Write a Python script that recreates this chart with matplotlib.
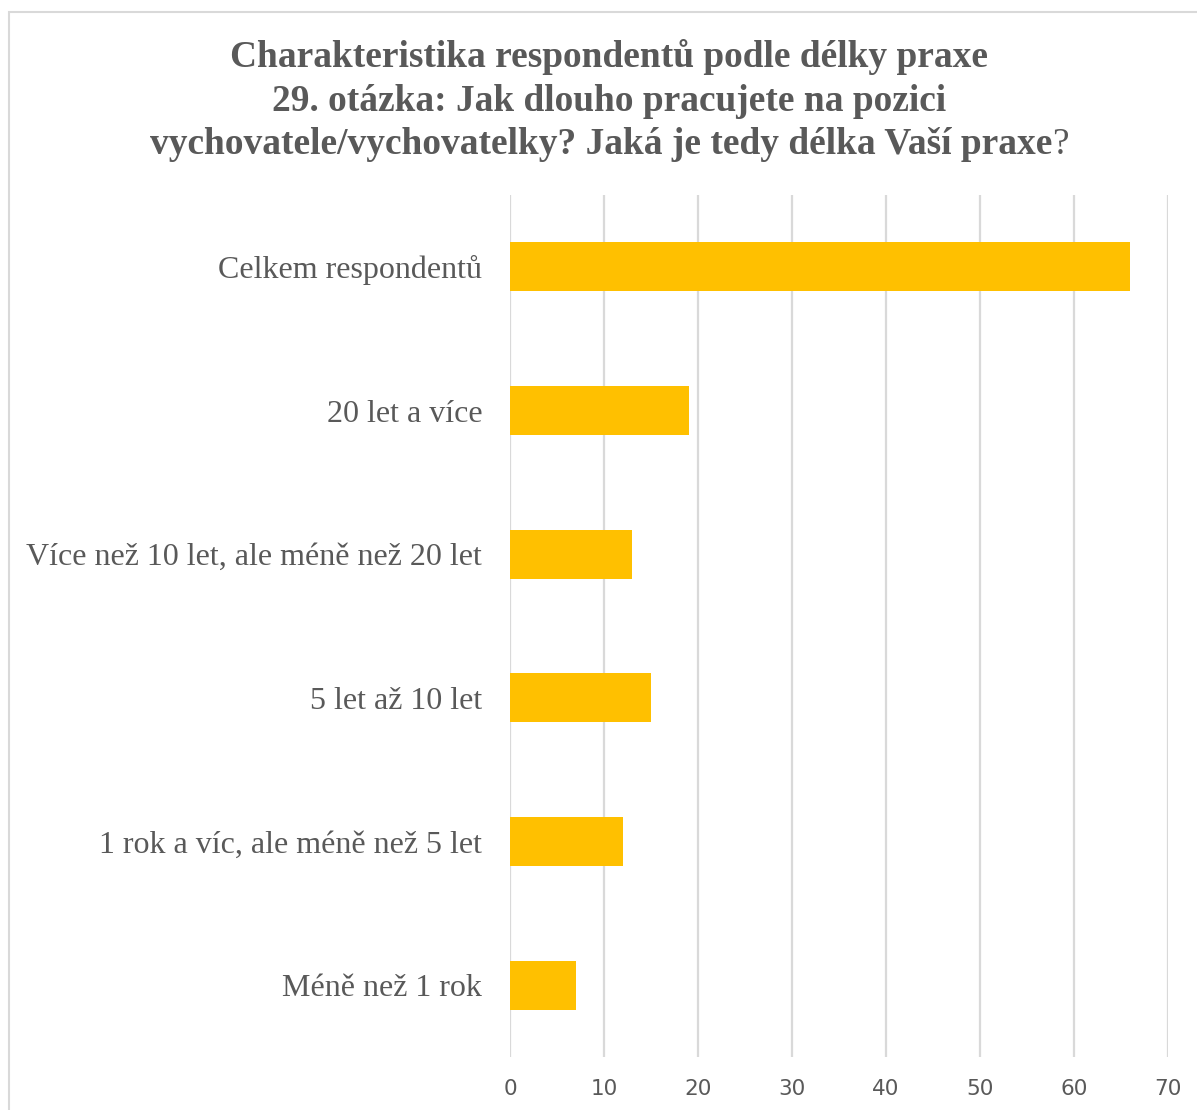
import matplotlib.pyplot as plt
from matplotlib.patches import Rectangle

categories = ["Méně než 1 rok",
              "1 rok a víc, ale méně než 5 let",
              "5 let až 10 let",
              "Více než 10 let, ale méně než 20 let",
              "20 let a více",
              "Celkem respondentů"]
counts = [7, 12, 15, 13, 19, 66]
xticks = [0, 10, 20, 30, 40, 50, 60, 70]

title_lines = ["Charakteristika respondentů podle délky praxe",
               "29. otázka: Jak dlouho pracujete na pozici"]
title_last = "vychovatele/vychovatelky? Jaká je tedy délka Vaší praxe"

txt = "#595959"
grid = "#d9d9d9"
gold = "#ffc000"

W, H = 1197, 1110
fig = plt.figure(figsize=(W / 100, H / 100), dpi=100)

# chart area frame
fig.patches.append(Rectangle((9 / W, -0.05), 1.1, 1 - 12 / H + 0.05,
                             transform=fig.transFigure, fill=False,
                             edgecolor=grid, linewidth=1.5))

ax = fig.add_axes([510 / W, 1 - 1057 / H, 658 / W, 862 / H])
ax.barh(range(len(categories)), counts, height=0.34, color=gold, zorder=3)
ax.set_ylim(-0.5, len(categories) - 0.5)
ax.set_xlim(0, 70)
ax.set_xticks(xticks)
ax.set_xticklabels([str(t) for t in xticks], fontsize=15.5, color=txt,
                   family="DejaVu Sans")
ax.set_yticks(range(len(categories)))
ax.set_yticklabels(categories, fontsize=23, color=txt, family="Liberation Serif")
ax.tick_params(axis="both", length=0)
ax.tick_params(axis="x", pad=16)
ax.tick_params(axis="y", pad=20)
ax.xaxis.grid(True, color=grid, linewidth=1.6, zorder=0)
for s in ax.spines.values():
    s.set_visible(False)

# title, the closing question mark is not bold
tkw = dict(fontsize=26.9, color=txt, family="Liberation Serif", ha="center", va="baseline")
fig.text(609 / W, 1 - 67 / H, title_lines[0], fontweight="bold", **tkw)
fig.text(609 / W, 1 - 111 / H, title_lines[1], fontweight="bold", **tkw)
renderer = fig.canvas.get_renderer()
t_bold = fig.text(0, 1 - 154 / H, title_last, fontweight="bold",
                  **{**tkw, "ha": "left"})
t_q = fig.text(0, 1 - 154 / H, "?", fontweight="normal", **{**tkw, "ha": "left"})
wb = t_bold.get_window_extent(renderer).width
wq = t_q.get_window_extent(renderer).width
x0 = 609 - (wb + wq) / 2
t_bold.set_x(x0 / W)
t_q.set_x((x0 + wb) / W)

fig.savefig("out.png", dpi=100)
